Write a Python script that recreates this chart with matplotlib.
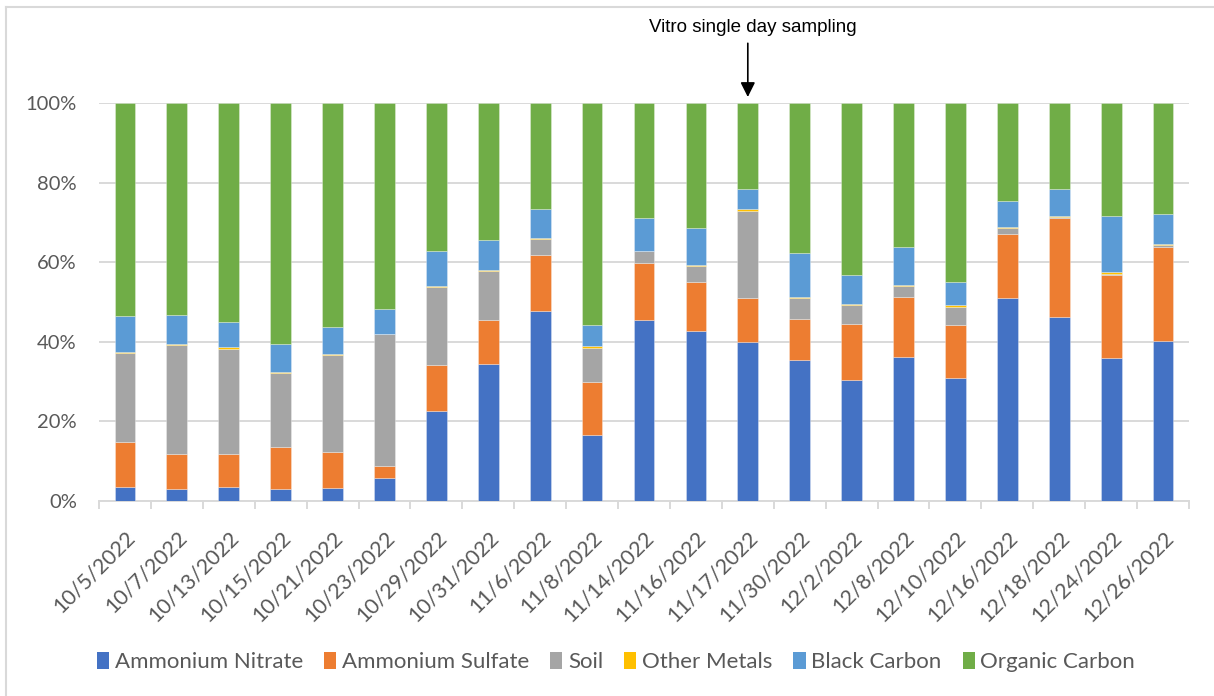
import numpy as np
import matplotlib
matplotlib.use("Agg")
from matplotlib import pyplot as plt
from matplotlib.lines import Line2D
from matplotlib.patches import Patch

dates = [
    "10/5/2022", "10/7/2022", "10/13/2022", "10/15/2022", "10/21/2022",
    "10/23/2022", "10/29/2022", "10/31/2022", "11/6/2022", "11/8/2022",
    "11/14/2022", "11/16/2022", "11/17/2022", "11/30/2022", "12/2/2022",
    "12/8/2022", "12/10/2022", "12/16/2022", "12/18/2022", "12/24/2022",
    "12/26/2022",
]

# percent of total mass
ammonium_nitrate = [3.5, 2.9, 3.4, 3.1, 3.3, 5.8, 22.7, 34.5, 47.7, 16.5, 45.6,
                    42.6, 40.0, 35.5, 30.5, 36.1, 31.0, 50.9, 46.3, 36.0, 40.3]
ammonium_sulfate = [11.4, 8.9, 8.5, 10.5, 9.1, 3.1, 11.4, 10.9, 14.1, 13.3, 14.3,
                    12.3, 11.1, 10.3, 14.0, 15.2, 13.1, 16.3, 24.8, 20.7, 23.4]
soil = [22.3, 27.3, 26.4, 18.5, 24.3, 33.0, 19.7, 12.3, 4.1, 8.6, 2.9,
        4.1, 21.8, 5.3, 4.7, 2.7, 4.7, 1.3, 0.2, 0.4, 0.6]
other_metals = [0.2, 0.3, 0.4, 0.2, 0.3, 0.1, 0.2, 0.4, 0.1, 0.6, 0.1,
                0.3, 0.5, 0.2, 0.2, 0.3, 0.4, 0.3, 0.3, 0.4, 0.3]
black_carbon = [9.2, 7.4, 6.2, 7.1, 6.6, 6.2, 8.8, 7.4, 7.3, 5.3, 8.2,
                9.2, 5.0, 11.0, 7.3, 9.5, 5.8, 6.5, 6.8, 14.2, 7.5]
organic_carbon = [53.4, 53.2, 55.1, 60.6, 56.4, 51.8, 37.2, 34.5, 26.7, 55.7, 28.9,
                  31.5, 21.6, 37.7, 43.3, 36.2, 45.0, 24.7, 21.6, 28.3, 27.9]

series = {
    "Ammonium Nitrate": (ammonium_nitrate, "#4472C4"),
    "Ammonium Sulfate": (ammonium_sulfate, "#ED7D31"),
    "Soil": (soil, "#A5A5A5"),
    "Other Metals": (other_metals, "#FFC000"),
    "Black Carbon": (black_carbon, "#5B9BD5"),
    "Organic Carbon": (organic_carbon, "#70AD47"),
}

annotated_date = "11/17/2022"

text_color = "#595959"
grid_color = "#D9D9D9"
plt.rcParams["font.family"] = ["Lato", "DejaVu Sans"]

W, H = 1214, 696
fig = plt.figure(figsize=(W / 100, H / 100), dpi=100)
ax = fig.add_axes([99 / W, (H - 501) / H, (1189 - 99) / W, (501 - 103) / H])

x = np.arange(len(dates))
bottom = np.zeros(len(dates))
for name, (vals, color) in series.items():
    vals = np.array(vals)
    ax.bar(x, vals, width=0.4, bottom=bottom, color=color, label=name,
           edgecolor=(1, 1, 1, 0.35), linewidth=0.6, zorder=3)
    bottom += vals

ax.set_xlim(-0.5, len(dates) - 0.5)
ax.set_ylim(0, 100)
ax.set_yticks(np.arange(0, 101, 20))
ax.set_yticklabels([f"{v}%" for v in range(0, 101, 20)])
ax.yaxis.grid(True, color=grid_color, linewidth=1.4, zorder=0)
ax.set_axisbelow(True)

for side in ["left", "right", "top"]:
    ax.spines[side].set_visible(False)
ax.spines["bottom"].set_color(grid_color)
ax.spines["bottom"].set_linewidth(1.4)

ax.tick_params(axis="y", length=0, pad=16, labelsize=14.5, labelcolor=text_color)
ax.set_xticks(x)
ax.set_xticklabels(dates)
ax.tick_params(axis="x", which="major", length=0, pad=19, labelsize=15.5,
               labelcolor=text_color)
plt.setp(ax.get_xticklabels(), rotation=45, ha="right", va="top",
         rotation_mode="anchor")
ax.set_xticks(np.arange(-0.5, len(dates)), minor=True)
ax.tick_params(axis="x", which="minor", length=6, width=1.4, color=grid_color)

# annotation arrow over the single day sampling
xi = dates.index(annotated_date)
ax.annotate("", xy=(xi, 101.5), xytext=(xi, 115), annotation_clip=False,
            arrowprops=dict(arrowstyle="-|>", color="black", lw=1.2,
                            mutation_scale=22, shrinkA=0, shrinkB=0))
ax.text(xi + 0.1, 119, "Vitro single day sampling", ha="center", va="center",
        fontsize=13.5, family=["Liberation Sans", "DejaVu Sans"], color="black",
        clip_on=False)

handles = [Patch(facecolor=c, edgecolor="none") for _, c in series.values()]
fig.legend(handles, list(series.keys()), loc="center", ncol=6,
           bbox_to_anchor=(616 / W, (H - 662) / H), frameon=False,
           fontsize=16, labelcolor=text_color, handlelength=0.55,
           handleheight=0.8, handletextpad=0.25, columnspacing=0.95)

# chart area border (top and left edges visible)
fig.add_artist(Line2D([6 / W, 6 / W], [0, (H - 7) / H], color=grid_color, lw=1.5))
fig.add_artist(Line2D([6 / W, 1], [(H - 7) / H, (H - 7) / H], color=grid_color, lw=1.5))

fig.savefig("out.png", dpi=100)
